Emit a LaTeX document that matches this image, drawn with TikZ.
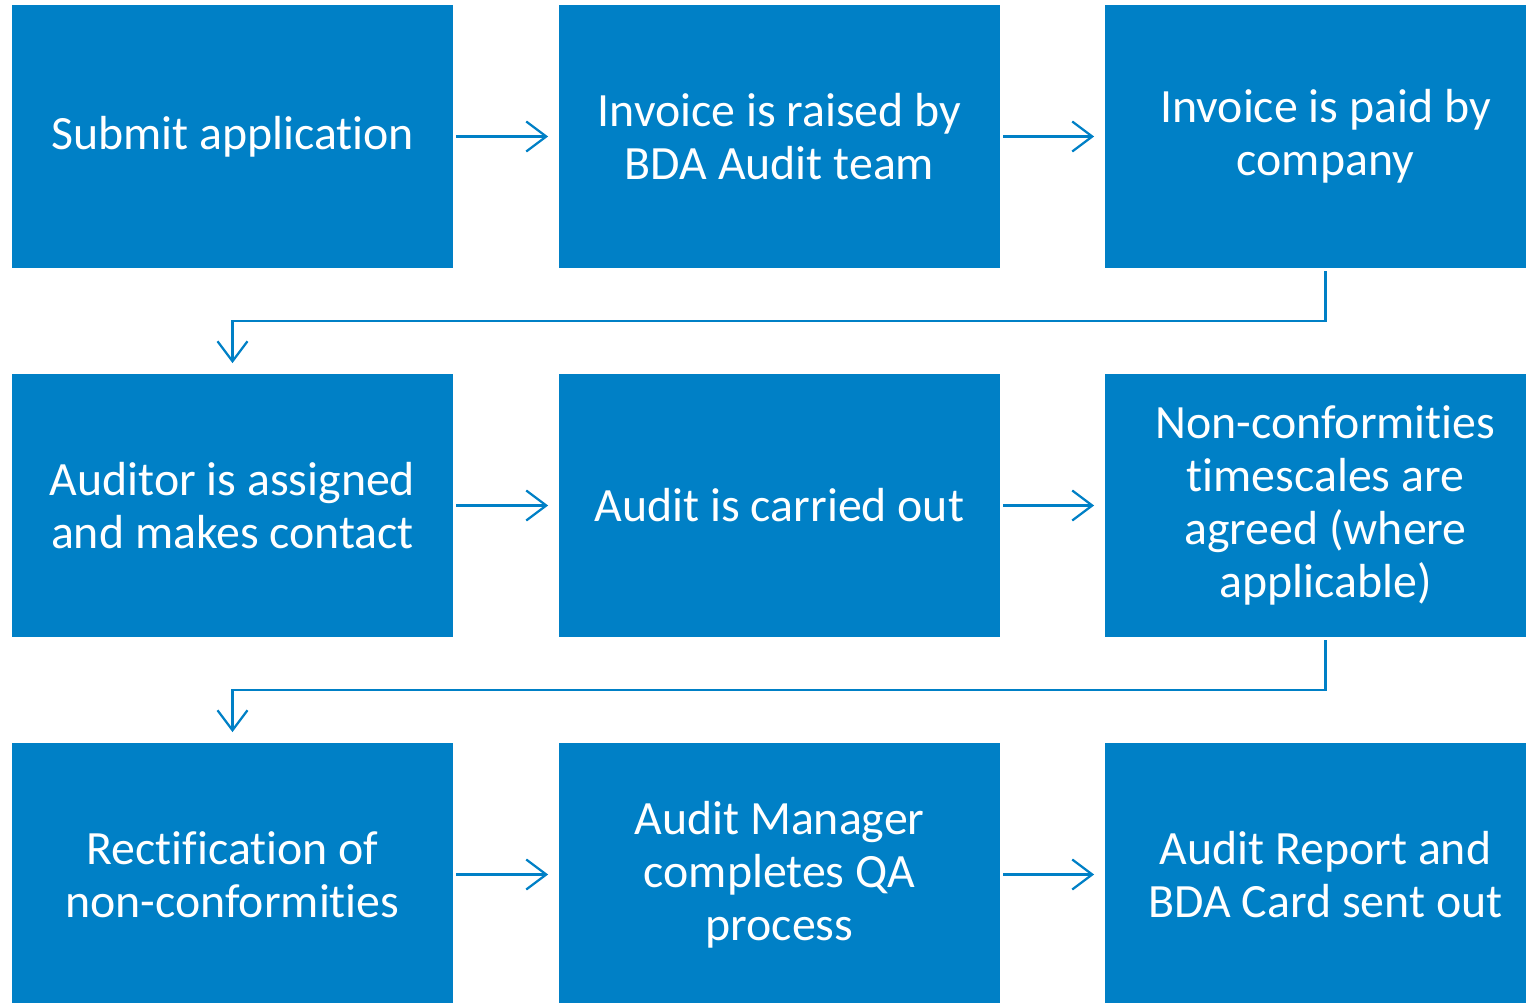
\documentclass[tikz,border=0pt]{standalone}
\usepackage{fontspec}
\setmainfont{Carlito}[Ligatures=NoCommon]
\usetikzlibrary{arrows.meta}
\definecolor{bdablue}{RGB}{0,128,198}
\begin{document}
\begin{tikzpicture}[x=0.025cm,y=0.025cm,
  stepbox/.style={rectangle,fill=bdablue,text=white,minimum width=11.025cm,minimum height=6.575cm,inner sep=0,align=center,font=\fontsize{34}{37.7}\selectfont},
  arr/.style={draw=bdablue,line width=1.6pt,-{Straight Barb[length=5mm,width=7.5mm,line width=1.6pt]},shorten <=2.1pt,shorten >=7.5pt}]
\useasboundingbox(0,0)rectangle(1526,1002);
\clip(0,0)rectangle(1526,1002);
% boxes, row by row
\node[stepbox](b1)at(232.5,865.5){Submit application};
\node[stepbox](b2)at(779.5,865.5){Invoice is raised by\\BDA Audit team};
\node[stepbox](b3)at(1325.5,865.5){Invoice is paid by\\company};
\node[stepbox](b4)at(232.5,496.5){Auditor is assigned\\and makes contact};
\node[stepbox](b5)at(779.5,496.5){Audit is carried out};
\node[stepbox](b6)at(1325.5,496.5){Non-conformities\\timescales are\\agreed (where\\applicable)};
\node[stepbox](b7)at(232.5,127.5){Rectification of\\non-conformities};
\node[stepbox](b8)at(779.5,127.5){Audit Manager\\completes QA\\process};
\node[stepbox](b9)at(1325.5,127.5){Audit Report and\\BDA Card sent out};
% arrows
\foreach \a/\b in {b1/b2,b2/b3,b4/b5,b5/b6,b7/b8,b8/b9}\draw[arr](\a)--(\b);
\foreach \a/\b in {b3/b4,b6/b7}\draw[arr](\a.south)--++(0,-53)-|(\b.north);
\end{tikzpicture}
\end{document}
